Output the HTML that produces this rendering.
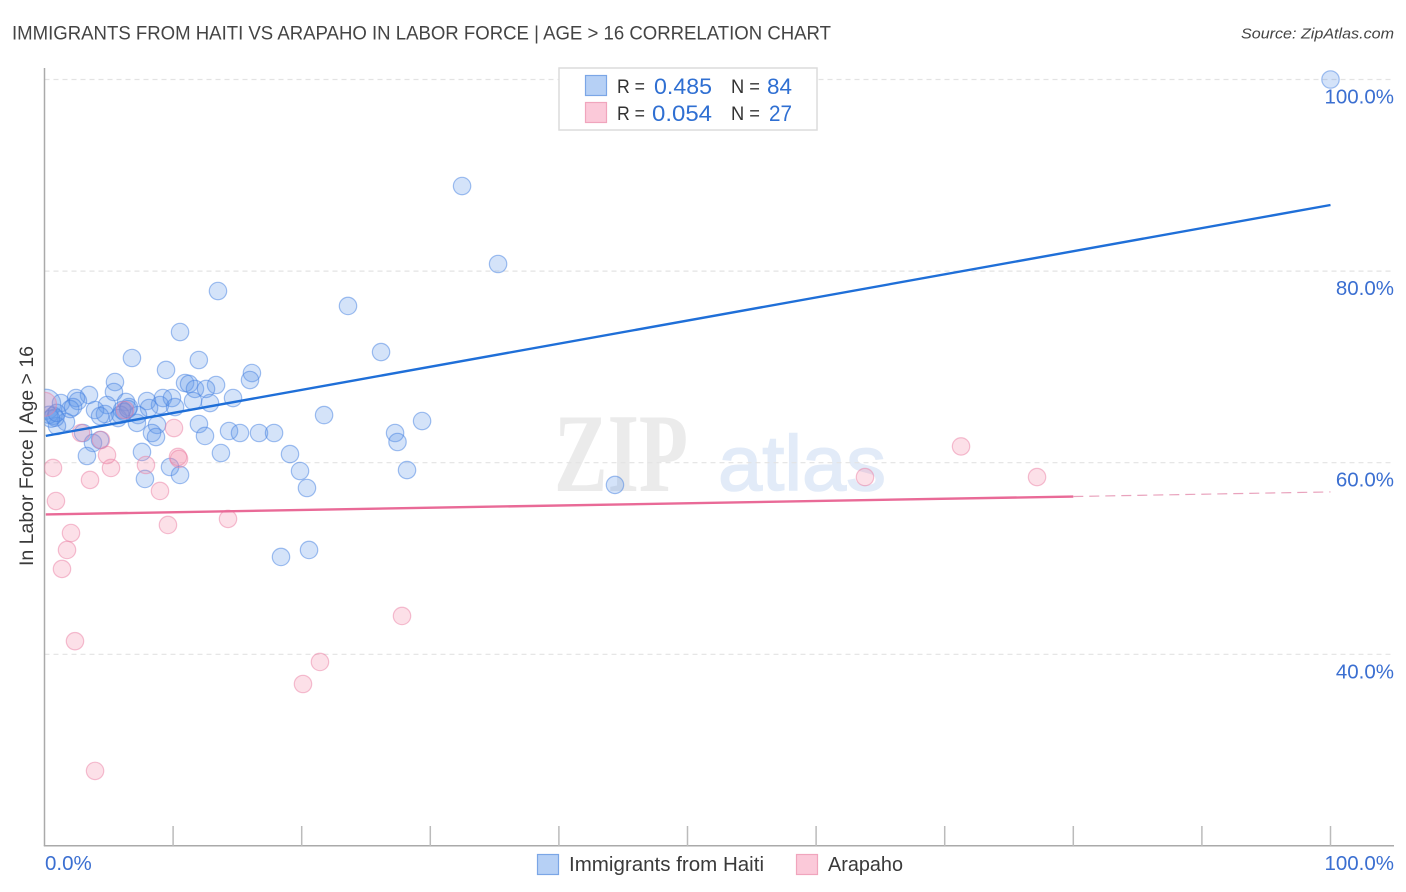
<!DOCTYPE html>
<html lang="en">
<head>
<meta charset="utf-8">
<title>Immigrants from Haiti vs Arapaho in Labor Force | Age &gt; 16 Correlation Chart</title>
<style>
html,body{margin:0;padding:0;background:#fff;width:1406px;height:892px;overflow:hidden}
svg{display:block;font-family:"Liberation Sans",sans-serif}
</style>
</head>
<body>
<svg id="chart" width="1406" height="892" viewBox="0 0 1406 892" xmlns="http://www.w3.org/2000/svg">
  <defs>
    <clipPath id="plot-clip"><rect x="44.5" y="60" width="1350" height="786"/></clipPath>
  </defs>
  <text x="12" y="39.5" font-size="19.5" fill="#444" textLength="819" lengthAdjust="spacingAndGlyphs">IMMIGRANTS FROM HAITI VS ARAPAHO IN LABOR FORCE | AGE &gt; 16 CORRELATION CHART</text>
  <text x="1241" y="38.5" font-size="15" font-style="italic" fill="#444" textLength="153" lengthAdjust="spacingAndGlyphs">Source: ZipAtlas.com</text>

  <g>
    <text x="554" y="491" font-family="'Liberation Serif',serif" font-weight="bold" font-size="112" fill="#ebebeb" textLength="134" lengthAdjust="spacingAndGlyphs">ZIP</text>
    <text x="718" y="490" font-size="78" fill="#e2ebf8" stroke="#e2ebf8" stroke-width="1.5" textLength="168" lengthAdjust="spacingAndGlyphs">atlas</text>
  </g>

  <g id="grid"></g>
  <g id="axes"></g>
  <g id="points" clip-path="url(#plot-clip)"></g>
  <g id="trends"></g>
  <g id="tick-labels"></g>

  <text transform="translate(33,566) rotate(-90)" font-size="19" fill="#3a3a3a" textLength="220" lengthAdjust="spacingAndGlyphs">In Labor Force | Age &gt; 16</text>

  <g>
    <rect x="559" y="68" width="258" height="62" fill="#fff" stroke="#dcdcdc" stroke-width="1.5"/>
    <rect x="585.5" y="75.5" width="21" height="20" fill="#b6d0f5" stroke="#7ba6e6" stroke-width="1.2"/>
    <rect x="585.5" y="102.5" width="21" height="20" fill="#fbc9d9" stroke="#f0a5bd" stroke-width="1.2"/>
    <text x="617" y="93" font-size="19" fill="#333" textLength="28" lengthAdjust="spacingAndGlyphs">R =</text>
    <text x="654" y="94" font-size="22" fill="#2f6fd2" textLength="58" lengthAdjust="spacingAndGlyphs">0.485</text>
    <text x="731" y="93" font-size="19" fill="#333" textLength="29" lengthAdjust="spacingAndGlyphs">N =</text>
    <text x="767" y="94" font-size="22" fill="#2f6fd2" textLength="25" lengthAdjust="spacingAndGlyphs">84</text>
    <text x="617" y="120" font-size="19" fill="#333" textLength="28" lengthAdjust="spacingAndGlyphs">R =</text>
    <text x="652" y="121" font-size="22" fill="#2f6fd2" textLength="60" lengthAdjust="spacingAndGlyphs">0.054</text>
    <text x="731" y="120" font-size="19" fill="#333" textLength="29" lengthAdjust="spacingAndGlyphs">N =</text>
    <text x="769" y="121" font-size="22" fill="#2f6fd2" textLength="23" lengthAdjust="spacingAndGlyphs">27</text>
  </g>

  <g>
    <rect x="537.5" y="854.5" width="21" height="20" fill="#b6d0f5" stroke="#7ba6e6" stroke-width="1.2"/>
    <text x="569" y="871" font-size="20" fill="#3a3a3a" textLength="195" lengthAdjust="spacingAndGlyphs">Immigrants from Haiti</text>
    <rect x="796.5" y="854.5" width="21" height="20" fill="#fbc9d9" stroke="#f0a5bd" stroke-width="1.2"/>
    <text x="828" y="871" font-size="20" fill="#3a3a3a" textLength="75" lengthAdjust="spacingAndGlyphs">Arapaho</text>
  </g>
</svg>

<script>
const yTickValues = [100, 80, 60, 40];
const yTickLabels = ["100.0%", "80.0%", "60.0%", "40.0%"];
const xTickValues = [10, 20, 30, 40, 50, 60, 70, 80, 90, 100];
const xEdgeValues = [0, 100];
const xEdgeLabels = ["0.0%", "100.0%"];

const haitiX = [0.1, 100, 32.47, 35.27, 13.49, 23.6, 10.54, 26.17, 6.8, 12.0, 9.45, 16.13, 15.98, 5.48, 10.93, 11.24, 13.34, 11.7, 12.56, 5.4, 3.46, 14.66, 2.45, 2.6, 7.97, 9.21, 9.91, 11.55, 1.28, 6.34, 12.87, 4.86, 8.98, 10.15, 2.22, 3.93, 6.57, 6.03, 8.13, 4.7, 4.32, 7.27, 5.72, 21.74, 1.67, 7.19, 0.97, 29.36, 12.01, 8.75, 3.0, 8.36, 14.35, 15.2, 16.68, 17.85, 27.26, 12.48, 8.67, 27.45, 3.77, 4.32, 13.72, 19.09, 7.58, 3.3, 9.76, 19.87, 28.19, 10.54, 7.81, 20.41, 44.36, 20.57, 18.39, 0.35, 0.7, 0.85, 0.5, 0.95, 6.2, 5.9, 6.5, 2.0];
const haitiY = [66.1, 100, 88.88, 80.74, 77.92, 76.36, 73.64, 71.55, 70.93, 70.72, 69.68, 69.36, 68.63, 68.42, 68.32, 68.22, 68.11, 67.7, 67.7, 67.38, 67.07, 66.75, 66.75, 66.44, 66.44, 66.75, 66.75, 66.44, 66.23, 66.34, 66.23, 66.02, 66.02, 65.81, 65.81, 65.5, 65.81, 65.5, 65.71, 65.08, 64.87, 64.97, 64.66, 64.97, 64.25, 64.15, 63.83, 64.35, 64.04, 63.94, 63.1, 63.1, 63.31, 63.1, 63.1, 63.1, 63.1, 62.79, 62.68, 62.16, 62.06, 62.37, 61.01, 60.9, 61.12, 60.7, 59.55, 59.13, 59.23, 58.72, 58.3, 57.36, 57.68, 50.89, 50.16, 65.0, 64.9, 64.7, 64.6, 65.2, 65.3, 65.0, 65.6, 65.6];

const arapahoX = [0.0, 0.66, 0.89, 2.06, 1.75, 1.36, 2.37, 3.93, 2.84, 4.39, 4.86, 5.17, 3.54, 7.89, 8.98, 9.6, 10.07, 10.38, 10.46, 14.27, 6.26, 20.1, 21.42, 27.8, 63.8, 71.27, 77.18];
const arapahoY = [66.1, 59.45, 56.0, 52.66, 50.89, 48.91, 41.37, 27.83, 63.1, 62.37, 60.8, 59.45, 58.2, 59.76, 57.05, 53.5, 63.62, 60.6, 60.39, 54.13, 65.5, 36.9, 39.2, 44.0, 58.5, 61.7, 58.5];

const haitiTrendX = [0.1, 100];
const haitiTrendY = [62.8, 86.9];
const arapahoSolidX = [0.1, 80];
const arapahoSolidY = [54.6, 56.47];
const arapahoDashX = [80, 100];
const arapahoDashY = [56.47, 56.95];

const X0 = 44.5, X100 = 1330.5, Y100 = 79.5, Y40 = 654.3;
const NS = 'http://www.w3.org/2000/svg';
function xScale(v){ return X0 + (X100 - X0) * v / 100; }
function yScale(v){ return Y100 + (Y40 - Y100) * (100 - v) / 60; }
function make(tag, attrs, parent){
  const el = document.createElementNS(NS, tag);
  for (const k in attrs) el.setAttribute(k, attrs[k]);
  parent.appendChild(el);
  return el;
}
const grid = document.getElementById('grid');
const axes = document.getElementById('axes');
const points = document.getElementById('points');
const trends = document.getElementById('trends');
const labels = document.getElementById('tick-labels');

yTickValues.forEach(function(v, i){
  const line = make('line', {x1: X0, x2: 1394, y1: yScale(v), y2: yScale(v), stroke: '#e3e3e3', 'stroke-width': 1.2, 'stroke-dasharray': '5 4'}, grid);
  
  
  const lab = make('text', {x: 1394, y: yScale(v) + 24, 'text-anchor': 'end', 'font-size': 20.5, fill: '#3b6fd1'}, labels);
  lab.textContent = yTickLabels[i];
  
  
});

const yAxis = make('line', {x1: X0, x2: X0, y1: 68, y2: 846, stroke: '#aaa', 'stroke-width': 1.5}, axes);


const xAxis = make('line', {x1: X0 - 0.7, x2: 1394, y1: 845.7, y2: 845.7, stroke: '#aaa', 'stroke-width': 1.5}, axes);



xTickValues.forEach(function(v){
  const tick = make('line', {x1: xScale(v), x2: xScale(v), y1: 826, y2: 846, stroke: '#bbb', 'stroke-width': 1.5}, axes);
  
  
});

xEdgeValues.forEach(function(v, i){
  const lab = make('text', {x: i === 0 ? xScale(v) + 0.5 : 1394, y: 870, 'text-anchor': i === 0 ? 'start' : 'end', 'font-size': 20.5, fill: '#3b6fd1'}, labels);
  lab.textContent = xEdgeLabels[i];
  
  
});

/* The first entry of each series is the aggregate point at the axis: drawn larger. */
haitiX.forEach(function(v, i){
  const c = make('circle', {cx: xScale(v), cy: yScale(haitiY[i]), r: i === 0 ? 15 : 8.7, fill: 'rgba(96,150,232,0.27)', stroke: 'rgba(70,130,225,0.5)', 'stroke-width': 1.2}, points);
  
  
});
arapahoX.forEach(function(v, i){
  const c = make('circle', {cx: xScale(v), cy: yScale(arapahoY[i]), r: i === 0 ? 12 : 8.7, fill: 'rgba(244,130,165,0.25)', stroke: 'rgba(235,130,165,0.5)', 'stroke-width': 1.2}, points);
  
  
});

const haitiLine = make('line', {x1: xScale(haitiTrendX[0]), y1: yScale(haitiTrendY[0]), x2: xScale(haitiTrendX[1]), y2: yScale(haitiTrendY[1]), stroke: '#1f6fd8', 'stroke-width': 2.4}, trends);


const arapahoLine = make('line', {x1: xScale(arapahoSolidX[0]), y1: yScale(arapahoSolidY[0]), x2: xScale(arapahoSolidX[1]), y2: yScale(arapahoSolidY[1]), stroke: '#e96a97', 'stroke-width': 2.4}, trends);


const arapahoDash = make('line', {x1: xScale(arapahoDashX[0]), y1: yScale(arapahoDashY[0]), x2: xScale(arapahoDashX[1]), y2: yScale(arapahoDashY[1]), stroke: '#e9a3bd', 'stroke-width': 1.2, 'stroke-dasharray': '10 6'}, trends);


</script>
</body>
</html>
